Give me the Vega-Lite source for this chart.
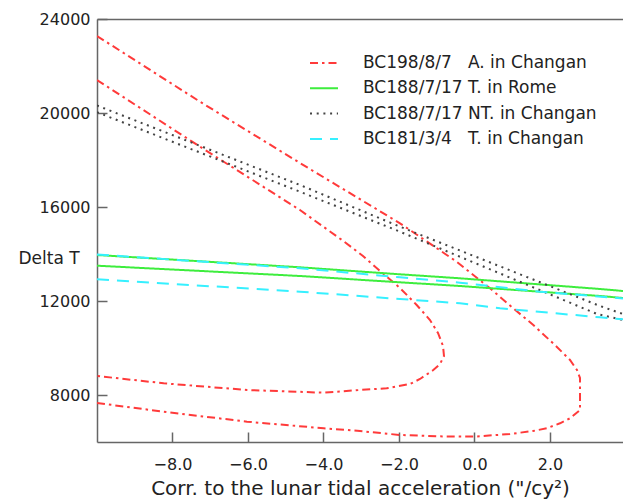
{
  "$schema": "https://vega.github.io/schema/vega-lite/v6.json",
  "width": 526,
  "height": 423,
  "autosize": {"type": "none"},
  "padding": {"left": 97, "top": 19, "right": 0, "bottom": 61},
  "background": "white",
  "config": {
    "view": {"stroke": null},
    "font": "DejaVu Sans",
    "axis": {"grid": false, "domainColor": "#666666", "domainWidth": 1.5, "tickColor": "#666666", "tickWidth": 1.5, "labelColor": "#222222", "titleColor": "#222222", "labelFont": "DejaVu Sans", "titleFont": "DejaVu Sans", "titleFontWeight": "normal"}
  },
  "data": {"values": [
    {"s": "BC198/8/7\u00a0\u00a0\u00a0A. in Changan", "c": "A1", "i": 1, "x": -10, "y": 23277},
    {"s": "BC198/8/7\u00a0\u00a0\u00a0A. in Changan", "c": "A1", "i": 2, "x": -7.272, "y": 20481},
    {"s": "BC198/8/7\u00a0\u00a0\u00a0A. in Changan", "c": "A1", "i": 3, "x": -4.623, "y": 17872},
    {"s": "BC198/8/7\u00a0\u00a0\u00a0A. in Changan", "c": "A1", "i": 4, "x": -1.974, "y": 15306},
    {"s": "BC198/8/7\u00a0\u00a0\u00a0A. in Changan", "c": "A1", "i": 5, "x": -0.472, "y": 13672},
    {"s": "BC198/8/7\u00a0\u00a0\u00a0A. in Changan", "c": "A1", "i": 6, "x": 0.411, "y": 12540},
    {"s": "BC198/8/7\u00a0\u00a0\u00a0A. in Changan", "c": "A1", "i": 7, "x": 1.028, "y": 11689},
    {"s": "BC198/8/7\u00a0\u00a0\u00a0A. in Changan", "c": "A1", "i": 8, "x": 1.558, "y": 10979},
    {"s": "BC198/8/7\u00a0\u00a0\u00a0A. in Changan", "c": "A1", "i": 9, "x": 2.177, "y": 10055},
    {"s": "BC198/8/7\u00a0\u00a0\u00a0A. in Changan", "c": "A1", "i": 10, "x": 2.53, "y": 9489},
    {"s": "BC198/8/7\u00a0\u00a0\u00a0A. in Changan", "c": "A1", "i": 11, "x": 2.715, "y": 9064},
    {"s": "BC198/8/7\u00a0\u00a0\u00a0A. in Changan", "c": "A1", "i": 12, "x": 2.795, "y": 8723},
    {"s": "BC198/8/7\u00a0\u00a0\u00a0A. in Changan", "c": "A1", "i": 13, "x": 2.795, "y": 7362},
    {"s": "BC198/8/7\u00a0\u00a0\u00a0A. in Changan", "c": "A1", "i": 14, "x": 2.53, "y": 7009},
    {"s": "BC198/8/7\u00a0\u00a0\u00a0A. in Changan", "c": "A1", "i": 15, "x": 2.265, "y": 6796},
    {"s": "BC198/8/7\u00a0\u00a0\u00a0A. in Changan", "c": "A1", "i": 16, "x": 1.913, "y": 6583},
    {"s": "BC198/8/7\u00a0\u00a0\u00a0A. in Changan", "c": "A1", "i": 17, "x": 1.55, "y": 6468},
    {"s": "BC198/8/7\u00a0\u00a0\u00a0A. in Changan", "c": "A1", "i": 18, "x": 0.94, "y": 6340},
    {"s": "BC198/8/7\u00a0\u00a0\u00a0A. in Changan", "c": "A1", "i": 19, "x": 0.013, "y": 6230},
    {"s": "BC198/8/7\u00a0\u00a0\u00a0A. in Changan", "c": "A1", "i": 20, "x": -0.914, "y": 6240},
    {"s": "BC198/8/7\u00a0\u00a0\u00a0A. in Changan", "c": "A1", "i": 21, "x": -1.974, "y": 6298},
    {"s": "BC198/8/7\u00a0\u00a0\u00a0A. in Changan", "c": "A1", "i": 22, "x": -3.033, "y": 6468},
    {"s": "BC198/8/7\u00a0\u00a0\u00a0A. in Changan", "c": "A1", "i": 23, "x": -3.995, "y": 6583},
    {"s": "BC198/8/7\u00a0\u00a0\u00a0A. in Changan", "c": "A1", "i": 24, "x": -6.026, "y": 6864},
    {"s": "BC198/8/7\u00a0\u00a0\u00a0A. in Changan", "c": "A1", "i": 25, "x": -8.233, "y": 7289},
    {"s": "BC198/8/7\u00a0\u00a0\u00a0A. in Changan", "c": "A1", "i": 26, "x": -10, "y": 7660},
    {"s": "BC198/8/7\u00a0\u00a0\u00a0A. in Changan", "c": "A2", "i": 1, "x": -10, "y": 21404},
    {"s": "BC198/8/7\u00a0\u00a0\u00a0A. in Changan", "c": "A2", "i": 2, "x": -7.272, "y": 18566},
    {"s": "BC198/8/7\u00a0\u00a0\u00a0A. in Changan", "c": "A2", "i": 3, "x": -4.623, "y": 15872},
    {"s": "BC198/8/7\u00a0\u00a0\u00a0A. in Changan", "c": "A2", "i": 4, "x": -3.475, "y": 14553},
    {"s": "BC198/8/7\u00a0\u00a0\u00a0A. in Changan", "c": "A2", "i": 5, "x": -2.954, "y": 13915},
    {"s": "BC198/8/7\u00a0\u00a0\u00a0A. in Changan", "c": "A2", "i": 6, "x": -2.503, "y": 13277},
    {"s": "BC198/8/7\u00a0\u00a0\u00a0A. in Changan", "c": "A2", "i": 7, "x": -1.974, "y": 12553},
    {"s": "BC198/8/7\u00a0\u00a0\u00a0A. in Changan", "c": "A2", "i": 8, "x": -1.531, "y": 11830},
    {"s": "BC198/8/7\u00a0\u00a0\u00a0A. in Changan", "c": "A2", "i": 9, "x": -1.179, "y": 11192},
    {"s": "BC198/8/7\u00a0\u00a0\u00a0A. in Changan", "c": "A2", "i": 10, "x": -0.967, "y": 10638},
    {"s": "BC198/8/7\u00a0\u00a0\u00a0A. in Changan", "c": "A2", "i": 11, "x": -0.834, "y": 10085},
    {"s": "BC198/8/7\u00a0\u00a0\u00a0A. in Changan", "c": "A2", "i": 12, "x": -0.808, "y": 9660},
    {"s": "BC198/8/7\u00a0\u00a0\u00a0A. in Changan", "c": "A2", "i": 13, "x": -0.914, "y": 9319},
    {"s": "BC198/8/7\u00a0\u00a0\u00a0A. in Changan", "c": "A2", "i": 14, "x": -1.091, "y": 9064},
    {"s": "BC198/8/7\u00a0\u00a0\u00a0A. in Changan", "c": "A2", "i": 15, "x": -1.444, "y": 8681},
    {"s": "BC198/8/7\u00a0\u00a0\u00a0A. in Changan", "c": "A2", "i": 16, "x": -1.709, "y": 8468},
    {"s": "BC198/8/7\u00a0\u00a0\u00a0A. in Changan", "c": "A2", "i": 17, "x": -2.326, "y": 8285},
    {"s": "BC198/8/7\u00a0\u00a0\u00a0A. in Changan", "c": "A2", "i": 18, "x": -3.033, "y": 8213},
    {"s": "BC198/8/7\u00a0\u00a0\u00a0A. in Changan", "c": "A2", "i": 19, "x": -3.995, "y": 8098},
    {"s": "BC198/8/7\u00a0\u00a0\u00a0A. in Changan", "c": "A2", "i": 20, "x": -6.026, "y": 8213},
    {"s": "BC198/8/7\u00a0\u00a0\u00a0A. in Changan", "c": "A2", "i": 21, "x": -8.233, "y": 8498},
    {"s": "BC198/8/7\u00a0\u00a0\u00a0A. in Changan", "c": "A2", "i": 22, "x": -10, "y": 8809},
    {"s": "BC188/7/17 T. in Rome", "c": "R1", "i": 1, "x": -10, "y": 13957},
    {"s": "BC188/7/17 T. in Rome", "c": "R1", "i": 2, "x": -4.623, "y": 13434},
    {"s": "BC188/7/17 T. in Rome", "c": "R1", "i": 3, "x": -1.974, "y": 13136},
    {"s": "BC188/7/17 T. in Rome", "c": "R1", "i": 4, "x": -0.384, "y": 12966},
    {"s": "BC188/7/17 T. in Rome", "c": "R1", "i": 5, "x": 3.325, "y": 12511},
    {"s": "BC188/7/17 T. in Rome", "c": "R1", "i": 6, "x": 3.934, "y": 12426},
    {"s": "BC188/7/17 T. in Rome", "c": "R2", "i": 1, "x": -10, "y": 13502},
    {"s": "BC188/7/17 T. in Rome", "c": "R2", "i": 2, "x": -4.623, "y": 13064},
    {"s": "BC188/7/17 T. in Rome", "c": "R2", "i": 3, "x": -1.974, "y": 12796},
    {"s": "BC188/7/17 T. in Rome", "c": "R2", "i": 4, "x": -0.384, "y": 12638},
    {"s": "BC188/7/17 T. in Rome", "c": "R2", "i": 5, "x": 3.325, "y": 12213},
    {"s": "BC188/7/17 T. in Rome", "c": "R2", "i": 6, "x": 3.934, "y": 12128},
    {"s": "BC188/7/17 NT. in Changan", "c": "N1", "i": 1, "x": -10, "y": 20319},
    {"s": "BC188/7/17 NT. in Changan", "c": "N1", "i": 2, "x": -4.623, "y": 16936},
    {"s": "BC188/7/17 NT. in Changan", "c": "N1", "i": 3, "x": -1.974, "y": 15162},
    {"s": "BC188/7/17 NT. in Changan", "c": "N1", "i": 4, "x": 3.325, "y": 11787},
    {"s": "BC188/7/17 NT. in Changan", "c": "N1", "i": 5, "x": 3.934, "y": 11447},
    {"s": "BC188/7/17 NT. in Changan", "c": "N2", "i": 1, "x": -10, "y": 20034},
    {"s": "BC188/7/17 NT. in Changan", "c": "N2", "i": 2, "x": -4.623, "y": 16651},
    {"s": "BC188/7/17 NT. in Changan", "c": "N2", "i": 3, "x": -1.974, "y": 14949},
    {"s": "BC188/7/17 NT. in Changan", "c": "N2", "i": 4, "x": 3.245, "y": 11447},
    {"s": "BC188/7/17 NT. in Changan", "c": "N2", "i": 5, "x": 3.934, "y": 11192},
    {"s": "BC181/3/4\u00a0\u00a0\u00a0T. in Changan", "c": "C1", "i": 1, "x": -10, "y": 13979},
    {"s": "BC181/3/4\u00a0\u00a0\u00a0T. in Changan", "c": "C1", "i": 2, "x": -4.623, "y": 13392},
    {"s": "BC181/3/4\u00a0\u00a0\u00a0T. in Changan", "c": "C1", "i": 3, "x": -1.974, "y": 13009},
    {"s": "BC181/3/4\u00a0\u00a0\u00a0T. in Changan", "c": "C1", "i": 4, "x": -0.384, "y": 12779},
    {"s": "BC181/3/4\u00a0\u00a0\u00a0T. in Changan", "c": "C1", "i": 5, "x": 1.735, "y": 12396},
    {"s": "BC181/3/4\u00a0\u00a0\u00a0T. in Changan", "c": "C1", "i": 6, "x": 3.934, "y": 12106},
    {"s": "BC181/3/4\u00a0\u00a0\u00a0T. in Changan", "c": "C2", "i": 1, "x": -10, "y": 12923},
    {"s": "BC181/3/4\u00a0\u00a0\u00a0T. in Changan", "c": "C2", "i": 2, "x": -4.623, "y": 12396},
    {"s": "BC181/3/4\u00a0\u00a0\u00a0T. in Changan", "c": "C2", "i": 3, "x": -1.974, "y": 12085},
    {"s": "BC181/3/4\u00a0\u00a0\u00a0T. in Changan", "c": "C2", "i": 4, "x": -0.384, "y": 11902},
    {"s": "BC181/3/4\u00a0\u00a0\u00a0T. in Changan", "c": "C2", "i": 5, "x": 0.675, "y": 11689},
    {"s": "BC181/3/4\u00a0\u00a0\u00a0T. in Changan", "c": "C2", "i": 6, "x": 3.325, "y": 11306},
    {"s": "BC181/3/4\u00a0\u00a0\u00a0T. in Changan", "c": "C2", "i": 7, "x": 3.934, "y": 11221}
  ]},
  "resolve": {"axis": {"x": "independent"}},
  "layer": [
    {
      "mark": {"type": "line", "strokeWidth": 2, "clip": true},
      "encoding": {
        "x": {"field": "x", "type": "quantitative", "scale": {"domain": [-10, 3.934], "nice": false, "zero": false},
          "axis": {"orient": "bottom", "values": [-8, -6, -4, -2, 0, 2], "format": ".1f", "tickSize": -10, "labelPadding": 24, "labelFontSize": 16, "title": "Corr. to the lunar tidal acceleration (\"/cy\u00b2)", "titleFontSize": 20, "titlePadding": 6}},
        "y": {"field": "y", "type": "quantitative", "scale": {"domain": [6000, 24000], "nice": false, "zero": false},
          "axis": {"orient": "left", "values": [8000, 12000, 16000, 20000, 24000], "format": "d", "tickSize": -10, "labelPadding": 17, "labelFontSize": 16, "title": "Delta T", "titleAngle": 0, "titleAlign": "left", "titleBaseline": "middle", "titleX": -79, "titleY": 239, "titleFontSize": 17}},
        "color": {"field": "s", "type": "nominal",
          "scale": {"domain": ["BC198/8/7\u00a0\u00a0\u00a0A. in Changan", "BC188/7/17 T. in Rome", "BC188/7/17 NT. in Changan", "BC181/3/4\u00a0\u00a0\u00a0T. in Changan"], "range": ["#ff3a3a", "#3ded3d", "#444444", "#36f0ff"]},
          "legend": {"title": null, "orient": "none", "legendX": 212, "legendY": 29, "symbolSize": 784, "symbolStrokeWidth": 2, "labelFontSize": 17, "labelColor": "#222222", "labelOffset": 24, "labelLimit": 0, "rowPadding": 2.3, "padding": 0, "labelFont": "DejaVu Sans"}},
        "strokeDash": {"field": "s", "type": "nominal",
          "scale": {"domain": ["BC198/8/7\u00a0\u00a0\u00a0A. in Changan", "BC188/7/17 T. in Rome", "BC188/7/17 NT. in Changan", "BC181/3/4\u00a0\u00a0\u00a0T. in Changan"], "range": [[8, 4, 2.5, 4], [1, 0], [2, 4.7], [12, 8]]},
          "legend": {"title": null, "orient": "none", "legendX": 212, "legendY": 29, "symbolSize": 784, "symbolStrokeWidth": 2, "labelFontSize": 17, "labelColor": "#222222", "labelOffset": 24, "labelLimit": 0, "rowPadding": 2.3, "padding": 0, "labelFont": "DejaVu Sans"}},
        "detail": {"field": "c"},
        "order": {"field": "i", "type": "quantitative"}
      }
    },
    {
      "mark": {"type": "rule", "strokeOpacity": 0},
      "encoding": {
        "x": {"datum": -10, "type": "quantitative", "axis": {"orient": "top", "labels": false, "ticks": false, "title": null}}
      }
    }
  ]
}
